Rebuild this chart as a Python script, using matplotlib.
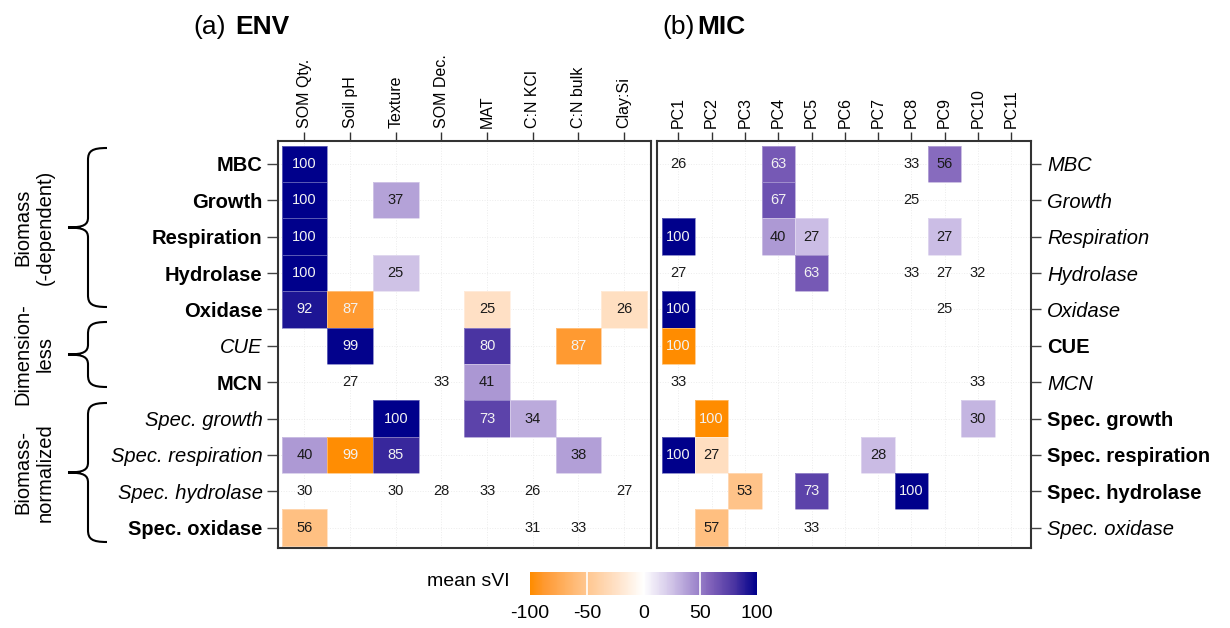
import numpy as np
import matplotlib
matplotlib.use("Agg")
import matplotlib.pyplot as plt
from matplotlib.colors import LinearSegmentedColormap
from matplotlib.path import Path
from matplotlib.patches import PathPatch
from matplotlib.cm import ScalarMappable
from matplotlib.colors import Normalize

plt.rcParams['font.family'] = ['Liberation Sans', 'DejaVu Sans']

# ---------------- data ----------------
rows = ["MBC", "Growth", "Respiration", "Hydrolase", "Oxidase", "CUE", "MCN",
        "Spec. growth", "Spec. respiration", "Spec. hydrolase", "Spec. oxidase"]
left_row_style = ["b", "b", "b", "b", "b", "i", "b", "i", "i", "i", "b"]
right_row_style = ["i", "i", "i", "i", "i", "b", "i", "b", "b", "b", "i"]

env_cols = ["SOM Qty.", "Soil pH", "Texture", "SOM Dec.", "MAT", "C:N KCl", "C:N bulk", "Clay:Si"]
mic_cols = ["PC1", "PC2", "PC3", "PC4", "PC5", "PC6", "PC7", "PC8", "PC9", "PC10", "PC11"]

env_values = [
    [100, 0, 0, 0, 0, 0, 0, 0],
    [100, 0, 37, 0, 0, 0, 0, 0],
    [100, 0, 0, 0, 0, 0, 0, 0],
    [100, 0, 25, 0, 0, 0, 0, 0],
    [92, 87, 0, 0, 25, 0, 0, 26],
    [0, 99, 0, 0, 80, 0, 87, 0],
    [0, 27, 0, 33, 41, 0, 0, 0],
    [0, 0, 100, 0, 73, 34, 0, 0],
    [40, 99, 85, 0, 0, 0, 38, 0],
    [30, 0, 30, 28, 33, 26, 0, 27],
    [56, 0, 0, 0, 0, 31, 33, 0],
]
env_sign = [
    [1, 0, 0, 0, 0, 0, 0, 0],
    [1, 0, 1, 0, 0, 0, 0, 0],
    [1, 0, 0, 0, 0, 0, 0, 0],
    [1, 0, 1, 0, 0, 0, 0, 0],
    [1, -1, 0, 0, -1, 0, 0, -1],
    [0, 1, 0, 0, 1, 0, -1, 0],
    [0, 0, 0, 0, 1, 0, 0, 0],
    [0, 0, 1, 0, 1, 1, 0, 0],
    [1, -1, 1, 0, 0, 0, 1, 0],
    [0, 0, 0, 0, 0, 0, 0, 0],
    [-1, 0, 0, 0, 0, 0, 0, 0],
]
mic_values = [
    [26, 0, 0, 63, 0, 0, 0, 33, 56, 0, 0],
    [0, 0, 0, 67, 0, 0, 0, 25, 0, 0, 0],
    [100, 0, 0, 40, 27, 0, 0, 0, 27, 0, 0],
    [27, 0, 0, 0, 63, 0, 0, 33, 27, 32, 0],
    [100, 0, 0, 0, 0, 0, 0, 0, 25, 0, 0],
    [100, 0, 0, 0, 0, 0, 0, 0, 0, 0, 0],
    [33, 0, 0, 0, 0, 0, 0, 0, 0, 33, 0],
    [0, 100, 0, 0, 0, 0, 0, 0, 0, 30, 0],
    [100, 27, 0, 0, 0, 0, 28, 0, 0, 0, 0],
    [0, 0, 53, 0, 73, 0, 0, 100, 0, 0, 0],
    [0, 57, 0, 0, 33, 0, 0, 0, 0, 0, 0],
]
mic_sign = [
    [0, 0, 0, 1, 0, 0, 0, 0, 1, 0, 0],
    [0, 0, 0, 1, 0, 0, 0, 0, 0, 0, 0],
    [1, 0, 0, 1, 1, 0, 0, 0, 1, 0, 0],
    [0, 0, 0, 0, 1, 0, 0, 0, 0, 0, 0],
    [1, 0, 0, 0, 0, 0, 0, 0, 0, 0, 0],
    [-1, 0, 0, 0, 0, 0, 0, 0, 0, 0, 0],
    [0, 0, 0, 0, 0, 0, 0, 0, 0, 0, 0],
    [0, -1, 0, 0, 0, 0, 0, 0, 0, 1, 0],
    [1, -1, 0, 0, 0, 0, 1, 0, 0, 0, 0],
    [0, 0, -1, 0, 1, 0, 0, 1, 0, 0, 0],
    [0, -1, 0, 0, 0, 0, 0, 0, 0, 0, 0],
]
groups = [("Biomass\n(-dependent)", 0, 4), ("Dimension-\nless", 5, 6), ("Biomass-\nnormalized", 7, 10)]
cbar_ticks = [-100, -50, 0, 50, 100]

# ---------------- style ----------------
cmap = LinearSegmentedColormap.from_list("svi", [
    (0.0, "#FF8C00"), (0.065, "#FF9A33"), (0.215, "#FFBF80"), (0.375, "#FFE0C4"),
    (0.5, "#FFFFFF"),
    (0.625, "#D0C3E7"), (0.7, "#AE9AD5"), (0.8, "#7E60B9"), (0.9, "#4B35A2"), (1.0, "#00008B")])
norm = Normalize(-100, 100)

W, H = 1230, 628
fig = plt.figure(figsize=(W / 100, H / 100), dpi=100)


def fx(x):
    return x / W


def fy(y):
    return 1 - y / H


def draw_panel(rect, cols, values, sign, xpad, ypad, side, styles):
    ax = fig.add_axes(rect)
    vals = np.array(values, dtype=float)
    sg = np.array(sign, dtype=float)
    nr, nc = vals.shape
    fill = np.ma.masked_where(sg == 0, sg * vals)
    ax.pcolormesh(np.arange(nc + 1) - 0.5, np.arange(nr + 1) - 0.5, fill, cmap=cmap, norm=norm,
                  edgecolors=(1, 1, 1, 0.35), linewidth=0.6, zorder=2)
    for i in range(nr):
        for j in range(nc):
            v = vals[i, j]
            if v > 0:
                col = "#F2F2F2" if (sg[i, j] != 0 and v >= 60) else "#1a1a1a"
                ax.text(j, i, f"{int(v)}", ha="center", va="center", fontsize=10.5, color=col, zorder=3)
    ax.set_xlim(-0.5 - xpad[0], nc - 0.5 + xpad[1])
    ax.set_ylim(nr - 0.5 + ypad[1], -0.5 - ypad[0])
    ax.set_xticks(range(nc))
    ax.set_xticklabels(cols, rotation=90, fontsize=11.5)
    ax.xaxis.tick_top()
    ax.tick_params(axis="x", length=6.5, width=1.0, pad=3, color="#333333")
    ax.set_yticks(range(nr))
    ax.set_yticklabels(rows, fontsize=14.5)
    if side == "right":
        ax.yaxis.tick_right()
        ax.tick_params(axis="y", length=7.5, width=1.0, pad=4, color="#444444")
    else:
        ax.tick_params(axis="y", length=8, width=1.0, pad=3, color="#444444")
    for lab, st in zip(ax.get_yticklabels(), styles):
        if st == "b":
            lab.set_fontweight("bold")
        else:
            lab.set_fontstyle("italic")
    for s in ax.spines.values():
        s.set_linewidth(1.5)
        s.set_color("#333333")
    ax.grid(True, color="#ececec", linestyle=":", linewidth=0.7, zorder=0)
    ax.set_axisbelow(True)
    return ax


top, bot = 141, 548
axL = draw_panel([fx(278), fy(bot), fx(651) - fx(278), fy(top) - fy(bot)], env_cols, env_values, env_sign,
                 (0.08, 0.09), (0.13, 0.06), "left", left_row_style)
axR = draw_panel([fx(657), fy(bot), fx(1031) - fx(657), fy(top) - fy(bot)], mic_cols, mic_values, mic_sign,
                 (0.14, 0.09), (0.13, 0.06), "right", right_row_style)

# titles
fig.text(fx(193), fy(34), "(a)", fontsize=19, va="baseline")
fig.text(fx(235), fy(34), "ENV", fontsize=19, fontweight="bold", va="baseline")
fig.text(fx(662), fy(34), "(b)", fontsize=19, va="baseline")
fig.text(fx(697), fy(34), "MIC", fontsize=19, fontweight="bold", va="baseline")


def brace(ytop, ybot):
    ymid = (ytop + ybot) / 2
    xr, xv, xl = 107, 88, 68
    verts = [(xr, ytop), (92, ytop), (xv, ytop + 3), (xv, ytop + 12),
             (xv, ymid - 10),
             (xv, ymid - 3), (84, ymid), (xl, ymid),
             (84, ymid), (xv, ymid + 3), (xv, ymid + 10),
             (xv, ybot - 12),
             (xv, ybot - 3), (92, ybot), (xr, ybot)]
    codes = [Path.MOVETO, Path.CURVE4, Path.CURVE4, Path.CURVE4,
             Path.LINETO,
             Path.CURVE4, Path.CURVE4, Path.CURVE4,
             Path.CURVE4, Path.CURVE4, Path.CURVE4,
             Path.LINETO,
             Path.CURVE4, Path.CURVE4, Path.CURVE4]
    p = Path([(fx(x), fy(y)) for x, y in verts], codes)
    fig.add_artist(PathPatch(p, transform=fig.transFigure, fill=False, lw=1.5, edgecolor="black"))
    return ymid


brace_spans = [(148, 307), (322, 387), (403, 542)]
for (label, r0, r1), (yt, yb) in zip(groups, brace_spans):
    ym = brace(yt, yb)
    fig.text(fx(34), fy(ym), label, rotation=90, ha="center", va="center", fontsize=14.5,
             linespacing=1.25, multialignment="center")

# colorbar
cax = fig.add_axes([fx(530), fy(595), fx(757) - fx(530), fy(572) - fy(595)])
sm = ScalarMappable(norm=norm, cmap=cmap)
cb = fig.colorbar(sm, cax=cax, orientation="horizontal", ticks=cbar_ticks)
cb.outline.set_visible(False)
cax.tick_params(length=0, labelsize=14, pad=7)
cax.set_xticklabels([str(t) for t in cbar_ticks])
for t in cbar_ticks[1:-1]:
    cax.axvline(t, color="white", lw=1.2)
fig.text(fx(510), fy(581), "mean sVI", ha="right", va="center", fontsize=14)

fig.savefig("out.png", dpi=100)
